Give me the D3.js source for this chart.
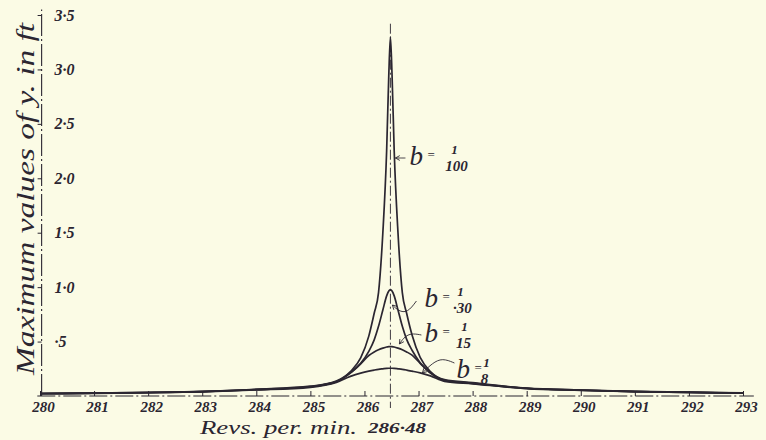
<!DOCTYPE html>
<html>
<head>
<meta charset="utf-8">
<script src="https://cdn.jsdelivr.net/npm/d3@7/dist/d3.min.js"></script>
<style>
  body { margin: 0; background: #fbfbe5; }
  svg { display: block; }
  text { font-family: "Liberation Serif", "DejaVu Serif", serif; font-style: italic; fill: #2b2631; }
</style>
</head>
<body>
<script>
// Resonance curves - max values of y against revs per min

var revs = [280, 281, 282, 283, 284, 285, 285.48, 285.74, 285.93, 286.08, 286.18, 286.26, 286.34, 286.41, 286.45,
  286.48,
  286.51, 286.55, 286.62, 286.70, 286.78, 286.88, 287.03, 287.22, 287.48, 288, 289, 290, 291, 292, 293];

// max y (ft) for each damping value b
var yB100 = [0.023, 0.027, 0.033, 0.042, 0.062, 0.090, 0.138, 0.225, 0.350, 0.550, 0.760, 0.950, 1.500, 2.250, 2.950,
  3.300,
  2.950, 2.250, 1.500, 0.950, 0.760, 0.560, 0.355, 0.225, 0.150, 0.122, 0.072, 0.055, 0.042, 0.035, 0.028];
var yB30 = [0.023, 0.027, 0.032, 0.041, 0.060, 0.087, 0.132, 0.215, 0.300, 0.410, 0.516, 0.640, 0.790, 0.920, 0.965,
  0.975,
  0.965, 0.920, 0.790, 0.640, 0.520, 0.420, 0.305, 0.215, 0.145, 0.118, 0.071, 0.054, 0.041, 0.034, 0.027];
var yB15 = [0.022, 0.026, 0.031, 0.040, 0.058, 0.085, 0.132, 0.210, 0.295, 0.372, 0.405, 0.425, 0.440, 0.450, 0.453,
  0.454,
  0.453, 0.450, 0.440, 0.425, 0.405, 0.375, 0.300, 0.210, 0.142, 0.115, 0.070, 0.053, 0.040, 0.033, 0.027];
var yB8 = [0.021, 0.025, 0.030, 0.038, 0.055, 0.080, 0.125, 0.180, 0.210, 0.228, 0.238, 0.245, 0.250, 0.254, 0.255,
  0.255,
  0.255, 0.254, 0.250, 0.245, 0.238, 0.228, 0.212, 0.185, 0.135, 0.112, 0.068, 0.052, 0.040, 0.033, 0.026];

var xTicks = [280, 281, 282, 283, 284, 285, 286, 287, 288, 289, 290, 291, 292, 293];
var xTickLabels = ["280", "281", "282", "283", "284", "285", "286", "287", "288", "289", "290", "291", "292", "293"];
var yTicks = [0.5, 1.0, 1.5, 2.0, 2.5, 3.0, 3.5];
var yTickLabels = ["·5", "1·0", "1·5", "2·0", "2·5", "3·0", "3·5"];
var centreRevs = 286.48;

var svgWidth = 766;
var svgHeight = 440;
var ink = "#2b2631";

var svg = d3.select("body")
  .append("svg")
  .attr("width", svgWidth)
  .attr("height", svgHeight);

var x = d3.scaleLinear().domain([280, 293]).range([40, 743]);
var y = d3.scaleLinear().domain([0, 3.5]).range([396, 15]);

// x axis: dash-dot line, ticks pointing up, labels below
svg.append("line")
  .attr("x1", x(279.95)).attr("x2", x(293.2))
  .attr("y1", y(0)).attr("y2", y(0))
  .attr("stroke", ink).attr("stroke-width", 1.2)
  .attr("stroke-dasharray", "18,3,2,3");

var xAxis = d3.axisBottom(x)
  .tickValues(xTicks)
  .tickFormat(function (d, i) { return xTickLabels[i]; })
  .tickSize(-5)
  .tickPadding(5);

var gx = svg.append("g")
  .attr("transform", "translate(0," + y(0) + ")")
  .call(xAxis);
gx.select(".domain").remove();
gx.attr("font-family", null).attr("font-size", null);
gx.selectAll(".tick line").attr("stroke", ink).attr("stroke-width", 1);
gx.selectAll(".tick text")
  .attr("fill", ink)
  .style("font-size", "15px")
  .style("font-weight", "bold")
  .attr("dx", 3);

// y axis: dashed vertical line, short ticks to the left, labels right
var axisX = x(280.03);
svg.append("line")
  .attr("x1", axisX).attr("x2", axisX)
  .attr("y1", y(0)).attr("y2", y(3.55))
  .attr("stroke", ink).attr("stroke-width", 1.1)
  .attr("stroke-dasharray", "22,3,2,3");

var yAxis = d3.axisRight(y)
  .tickValues(yTicks)
  .tickFormat(function (d, i) { return yTickLabels[i]; })
  .tickSize(-4)
  .tickPadding(13);

var gy = svg.append("g")
  .attr("transform", "translate(" + axisX + ",0)")
  .call(yAxis);
gy.select(".domain").remove();
gy.attr("font-family", null).attr("font-size", null);
gy.selectAll(".tick line").attr("stroke", ink);
gy.selectAll(".tick text")
  .attr("fill", ink)
  .style("font-size", "16px")
  .style("font-weight", "bold");

// centre line at 286.48
svg.append("line")
  .attr("x1", x(centreRevs)).attr("x2", x(centreRevs))
  .attr("y1", y(3.42)).attr("y2", y(0) + 12)
  .attr("stroke", ink).attr("stroke-width", 0.9)
  .attr("stroke-dasharray", "10,3,2,3");

// curves
var drawLine = d3.line()
  .x(function (d) { return x(d[0]); })
  .y(function (d) { return y(d[1]); })
  .curve(d3.curveMonotoneX);

[yB8, yB15, yB30, yB100].forEach(function (vals) {
  svg.append("path")
    .attr("d", drawLine(revs.map(function (r, i) { return [r, vals[i]]; })))
    .attr("fill", "none")
    .attr("stroke", ink)
    .attr("stroke-width", 1.7);
});

// labels b = 1/n with leader arrows
var cx = x(centreRevs);
function bLabel(bx, by, num, den, numDx, denDx) {
  var g = svg.append("g");
  g.append("text").attr("x", bx).attr("y", by).style("font-size", "27px").text("b");
  g.append("text").attr("x", bx + 18).attr("y", by - 6).style("font-size", "13px").style("font-style", "normal").text("=");
  g.append("text").attr("x", bx + numDx).attr("y", by - 11).attr("text-anchor", "middle").style("font-size", "13px").style("font-weight", "bold").text(num);
  g.append("text").attr("x", bx + denDx).attr("y", by + 6).attr("text-anchor", "middle").style("font-size", "15px").style("font-weight", "bold").text(den);
}
bLabel(cx + 19, 165, "1", "100", 45, 47);
bLabel(cx + 34, 307, "1", "·30", 36, 38);
bLabel(cx + 34, 342, "1", "15", 40, 39);
bLabel(cx + 66, 378, "1", "8", 30, 28);

function leader(pts) {
  svg.append("path")
    .attr("d", d3.line().curve(d3.curveBasis)(pts))
    .attr("fill", "none")
    .attr("stroke", ink)
    .attr("stroke-width", 0.9);
  var a = pts[pts.length - 1], b = pts[pts.length - 2];
  var ang = Math.atan2(a[1] - b[1], a[0] - b[0]);
  var len = 5;
  svg.append("path")
    .attr("d", "M" + (a[0] - len * Math.cos(ang - 0.5)) + "," + (a[1] - len * Math.sin(ang - 0.5)) +
      "L" + a[0] + "," + a[1] +
      "L" + (a[0] - len * Math.cos(ang + 0.5)) + "," + (a[1] - len * Math.sin(ang + 0.5)))
    .attr("fill", "none")
    .attr("stroke", ink)
    .attr("stroke-width", 0.9);
}
leader([[cx + 15, 158], [cx + 10, 158], [cx + 5, 158]]);
leader([[cx + 26, 301], [cx + 17, 313], [cx + 8, 311], [cx + 2, 305]]);
leader([[cx + 31, 335], [cx + 20, 333], [cx + 13, 338], [cx + 9, 344]]);
leader([[cx + 64, 363], [cx + 52, 358], [cx + 42, 363], [cx + 32, 373]]);

// axis titles
svg.append("text")
  .attr("transform", "translate(34,199) rotate(-90)")
  .attr("text-anchor", "middle")
  .attr("textLength", 352)
  .attr("lengthAdjust", "spacingAndGlyphs")
  .style("font-size", "25px")
  .text("Maximum values of y. in ft");

svg.append("text")
  .attr("x", 200)
  .attr("y", 434)
  .attr("textLength", 157)
  .attr("lengthAdjust", "spacingAndGlyphs")
  .style("font-size", "18px")
  .text("Revs. per. min.");

svg.append("text")
  .attr("x", 368)
  .attr("y", 433)
  .attr("textLength", 58)
  .attr("lengthAdjust", "spacingAndGlyphs")
  .style("font-size", "15px")
  .style("font-weight", "bold")
  .text("286·48");
</script>
</body>
</html>
